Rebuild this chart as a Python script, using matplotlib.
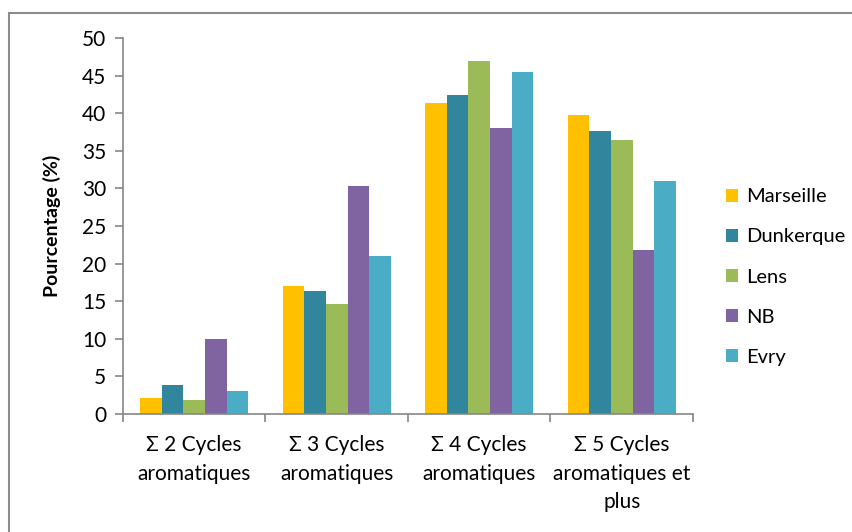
import matplotlib
matplotlib.use("Agg")
import matplotlib.pyplot as plt
import numpy as np
from matplotlib.patches import Rectangle

categories = ["Σ 2 Cycles\naromatiques", "Σ 3 Cycles\naromatiques",
              "Σ 4 Cycles\naromatiques", "Σ 5 Cycles\naromatiques et\nplus"]
series_names = ["Marseille", "Dunkerque", "Lens", "NB", "Evry"]
marseille = [2.1, 17.0, 41.3, 39.8]
dunkerque = [3.8, 16.3, 42.4, 37.6]
lens = [1.9, 14.6, 47.0, 36.5]
nb = [10.0, 30.3, 38.0, 21.8]
evry = [3.0, 21.0, 45.5, 31.0]
yticks = [0, 5, 10, 15, 20, 25, 30, 35, 40, 45, 50]
colors = ["#FFC000", "#31859C", "#9BBB59", "#8064A2", "#4BACC6"]

plt.rcParams['font.family'] = ['Lato', 'DejaVu Sans']

fig = plt.figure(figsize=(8.53, 5.32), dpi=100)
ax = fig.add_axes([123/853, 1-414/532, (693-123)/853, (414-38)/532])

# outer chart border (only top and left visible in the crop)
fig.patches.append(Rectangle((9/853, -0.05), 1.2, 1.05 - 13/532,
                             transform=fig.transFigure, fill=False,
                             edgecolor="#8C8C8C", linewidth=1.5))

data = [marseille, dunkerque, lens, nb, evry]
n = len(series_names)
width = 0.151
x = np.arange(len(categories)) + 0.5
for i, (name, vals, c) in enumerate(zip(series_names, data, colors)):
    ax.bar(x + (i - (n - 1) / 2) * width, vals, width=width, color=c,
           label=name, linewidth=0)

ax.set_xlim(0, 4)
ax.set_ylim(0, 50)
ax.set_yticks(yticks)
ax.set_xticks(x)
ax.set_xticklabels(categories, fontsize=15, linespacing=1.55)
ax.set_xticks(np.arange(0, 5), minor=True)
ax.tick_params(axis='x', which='major', length=0, pad=15)
ax.tick_params(axis='x', which='minor', length=6, color="#868686", width=1.2)
ax.tick_params(axis='y', length=6, color="#868686", width=1.2, labelsize=15, pad=6)
for s in ["top", "right"]:
    ax.spines[s].set_visible(False)
for s in ["left", "bottom"]:
    ax.spines[s].set_color("#868686")
    ax.spines[s].set_linewidth(1.2)

ax.set_ylabel("Pourcentage (%)", fontsize=14, fontweight="bold", labelpad=15)

leg = ax.legend(loc="center left", bbox_to_anchor=(1.058, 0.364), frameon=False,
                fontsize=14.5, handlelength=0.6, handleheight=0.6,
                labelspacing=1.15, handletextpad=0.4, borderpad=0,
                borderaxespad=0)

fig.savefig("out.png", dpi=100)
